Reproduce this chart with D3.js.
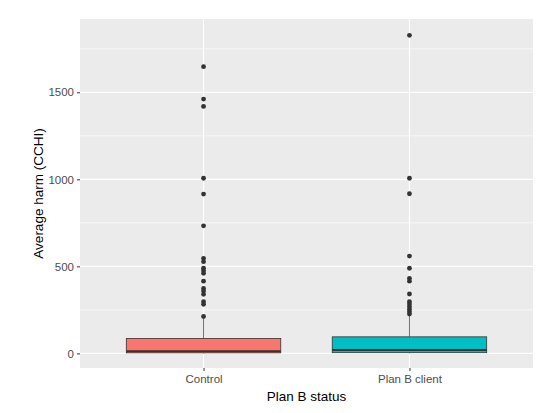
<!doctype html>
<html>
<head>
  <script src="https://d3js.org/d3.v7.min.js"></script>
  <style>
    body { margin: 0; background: #fff; }
    text { font-family: "Liberation Sans", Arial, sans-serif; }
  </style>
</head>
<body>
  <svg width="538" height="413"></svg>
  <script>
    // categories and box stats
    const groups = ["Control", "Plan B client"];
    const fills = ["#F8766D", "#00BFC4"];
    const q1 = [3, 4];
    const medians = [12, 19];
    const q3 = [86, 95];
    const whiskerLow = [0, 0];
    const whiskerHigh = [200, 218];
    const outliersControl = [212, 282, 297, 339, 358, 373, 415, 460, 475, 489, 527, 546, 733, 915, 1006, 1419, 1461, 1647];
    const outliersPlanB = [226, 239, 253, 268, 283, 297, 341, 415, 431, 489, 559, 917, 1006, 1827];
    const outliers = [outliersControl, outliersPlanB];
    const yTicks = [0, 500, 1000, 1500];
    const yMinor = [250, 750, 1250, 1750];

    const margin = { top: 19, right: 5, bottom: 45, left: 80 };
    const width = 538 - margin.left - margin.right;
    const height = 413 - margin.top - margin.bottom;

    const svg = d3.select("svg")
      .append("g")
      .attr("transform", `translate(${margin.left},${margin.top})`);

    // discrete x scale with ggplot-like 0.6 expansion
    const xScale = d3.scaleLinear().domain([0.4, 2.6]).range([0, width]);
    const xPos = i => xScale(i + 1);

    const yScale = d3.scaleLinear().domain([-84, 1921]).range([height, 0]);

    // panel background
    svg.append("rect")
      .attr("width", width)
      .attr("height", height)
      .attr("fill", "#EBEBEB");

    // minor grid
    svg.selectAll(".minor")
      .data(yMinor)
      .enter().append("line")
      .attr("x1", 0).attr("x2", width)
      .attr("y1", d => yScale(d)).attr("y2", d => yScale(d))
      .attr("stroke", "#fff").attr("stroke-width", 0.6);

    // major grid
    svg.selectAll(".major")
      .data(yTicks)
      .enter().append("line")
      .attr("x1", 0).attr("x2", width)
      .attr("y1", d => yScale(d)).attr("y2", d => yScale(d))
      .attr("stroke", "#fff").attr("stroke-width", 1.2);

    svg.selectAll(".vmajor")
      .data(groups)
      .enter().append("line")
      .attr("x1", (d, i) => xPos(i)).attr("x2", (d, i) => xPos(i))
      .attr("y1", 0).attr("y2", height)
      .attr("stroke", "#fff").attr("stroke-width", 1.2);

    // y axis
    const yAxis = d3.axisLeft(yScale)
      .tickValues(yTicks)
      .tickFormat(d3.format("d"))
      .tickSize(3)
      .tickPadding(3);
    const gy = svg.append("g").call(yAxis);
    gy.select(".domain").remove();
    gy.selectAll("line").attr("stroke", "#333");
    gy.selectAll("text").attr("fill", "#4D4D4D").style("font-size", "11.5px");

    // x axis
    const xAxis = d3.axisBottom(xScale)
      .tickValues([1, 2])
      .tickFormat(d => groups[d - 1])
      .tickSize(3)
      .tickPadding(4);
    const gx = svg.append("g")
      .attr("transform", `translate(0,${height})`)
      .call(xAxis);
    gx.select(".domain").remove();
    gx.selectAll("line").attr("stroke", "#333");
    gx.selectAll("text").attr("fill", "#4D4D4D").style("font-size", "11.5px");

    // boxes
    const boxW = xScale(1.75) - xScale(1);

    groups.forEach((g, i) => {
      const cx = xPos(i);
      // whiskers
      svg.append("line")
        .attr("x1", cx).attr("x2", cx)
        .attr("y1", yScale(q3[i])).attr("y2", yScale(whiskerHigh[i]))
        .attr("stroke", "#333").attr("stroke-width", 0.7);
      svg.append("line")
        .attr("x1", cx).attr("x2", cx)
        .attr("y1", yScale(q1[i])).attr("y2", yScale(whiskerLow[i]))
        .attr("stroke", "#333").attr("stroke-width", 0.7);
      // box
      svg.append("rect")
        .attr("x", cx - boxW / 2)
        .attr("y", yScale(q3[i]))
        .attr("width", boxW)
        .attr("height", yScale(q1[i]) - yScale(q3[i]))
        .attr("fill", fills[i])
        .attr("stroke", "#333")
        .attr("stroke-width", 0.8);
      // median
      svg.append("line")
        .attr("x1", cx - boxW / 2).attr("x2", cx + boxW / 2)
        .attr("y1", yScale(medians[i])).attr("y2", yScale(medians[i]))
        .attr("stroke", "#333").attr("stroke-width", 2);
      // outliers
      svg.selectAll(".out" + i)
        .data(outliers[i])
        .enter().append("circle")
        .attr("cx", cx)
        .attr("cy", d => yScale(d))
        .attr("r", 2.4)
        .attr("fill", "#333");
    });

    // axis titles
    svg.append("text")
      .attr("x", width / 2)
      .attr("y", height + 33)
      .attr("text-anchor", "middle")
      .style("font-size", "13.5px")
      .attr("fill", "#000")
      .text("Plan B status");

    svg.append("text")
      .attr("transform", `translate(${-37},${height / 2}) rotate(-90)`)
      .attr("text-anchor", "middle")
      .style("font-size", "13.5px")
      .attr("fill", "#000")
      .text("Average harm (CCHI)");
  </script>
</body>
</html>
